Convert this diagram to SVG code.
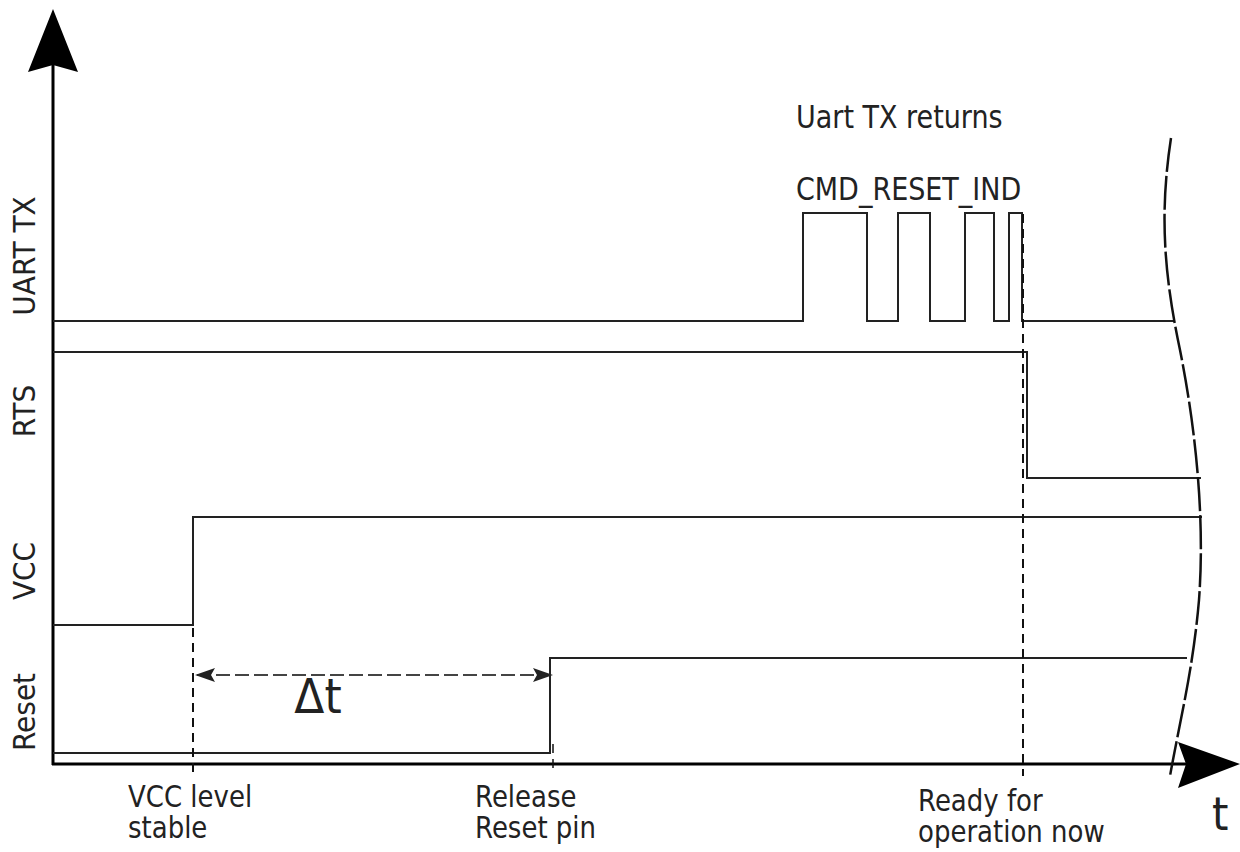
<svg xmlns="http://www.w3.org/2000/svg" width="1240" height="852" viewBox="0 0 1240 852">
<style>
.sig{fill:none;stroke:#222;stroke-width:2}
.axis{fill:none;stroke:#000;stroke-width:3}
.vdash{fill:none;stroke:#111;stroke-width:2;stroke-dasharray:9,6}
.txt{font-family:"DejaVu Sans",Verdana,sans-serif;font-size:26px;fill:#222}
.lbl{font-family:"DejaVu Sans",Verdana,sans-serif;font-size:28px;fill:#222}
</style>
<defs>
<marker id="dh" viewBox="0 0 20 14" refX="18" refY="7" markerWidth="20" markerHeight="14" markerUnits="userSpaceOnUse" orient="auto-start-reverse">
<path d="M0,0 L20,7 L0,14 L4,7 Z" fill="#222"/>
</marker>
</defs>
<rect width="1240" height="852" fill="#fff"/>

<g id="axes">
<line class="axis" x1="53" y1="60" x2="53" y2="765"/>
<line class="axis" x1="52" y1="764" x2="1190" y2="764"/>
<path d="M53,9 L78,72 L53,65 L28,72 Z" fill="#000"/>
<path d="M1240,764 L1178,742 L1186,764 L1178,788 Z" fill="#000"/>
<text class="lbl" transform="matrix(1,0,0,1.1,1212,830)" style="font-size:42px">t</text>
</g>

<g id="axis-labels">
<text class="lbl" transform="translate(35,256) rotate(-90) scale(1,1.1)" text-anchor="middle">UART TX</text>
<text class="lbl" transform="translate(35,411) rotate(-90) scale(1,1.1)" text-anchor="middle">RTS</text>
<text class="lbl" transform="translate(35,571) rotate(-90) scale(1,1.1)" text-anchor="middle">VCC</text>
<text class="lbl" transform="translate(35,712) rotate(-90) scale(1,1.1)" text-anchor="middle">Reset</text>
</g>

<g id="uart-tx">
<path class="sig" d="M53,321 H803 V213 H867 V321 H898 V213 H930 V321 H965 V213 H994 V321 H1009 V213 H1022 V321 H1174"/>
</g>
<g id="rts">
<path class="sig" d="M53,352 H1027 V478 H1201"/>
</g>
<g id="vcc">
<path class="sig" d="M53,625 H193 V517 H1202"/>
</g>
<g id="reset">
<path class="sig" d="M53,753 H550 V658 H1187"/>
</g>

<g id="break">
<path d="M1171,138 C1160,210 1163,270 1180,350 C1196,430 1205,520 1199,600 C1193,670 1180,720 1170,776" fill="none" stroke="#111" stroke-width="2.5" stroke-dasharray="34,4"/>
</g>

<g id="connectors">
<line class="vdash" x1="193" y1="628" x2="193" y2="776"/>
<line class="vdash" x1="1023" y1="214" x2="1023" y2="776"/>
<line class="vdash" x1="553" y1="744" x2="553" y2="770" style="stroke-width:1.5"/>
<line x1="197" y1="675" x2="551" y2="675" stroke="#444" stroke-width="2" stroke-dasharray="14,5" marker-start="url(#dh)" marker-end="url(#dh)"/>
<text class="lbl" transform="matrix(1,0,0,1.1,318,713)" text-anchor="middle" style="font-size:44px">Δt</text>
</g>

<g id="annotations">
<text class="txt" transform="matrix(1,0,0,1.15,796,128)" style="font-size:27px">Uart TX returns</text>
<text class="txt" transform="matrix(1,0,0,1.15,796,200)" style="font-size:27px">CMD_RESET_IND</text>
<text class="txt" transform="matrix(1,0,0,1.15,128,807)">VCC level</text>
<text class="txt" transform="matrix(1,0,0,1.15,128,838)">stable</text>
<text class="txt" transform="matrix(1,0,0,1.15,475,807)">Release</text>
<text class="txt" transform="matrix(1,0,0,1.15,475,838)">Reset pin</text>
<text class="txt" transform="matrix(1,0,0,1.15,918,811)">Ready for</text>
<text class="txt" transform="matrix(1,0,0,1.15,918,842)">operation now</text>
</g>
</svg>
